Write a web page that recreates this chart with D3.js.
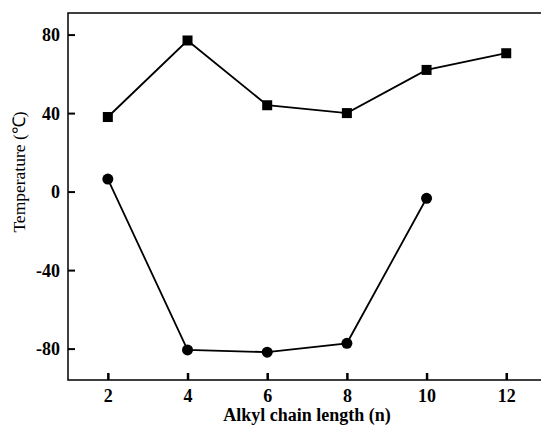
<!doctype html>
<html>
<head>
<script src="https://d3js.org/d3.v7.min.js"></script>
<style>
  body { margin: 0; background: #fff; }
  svg { display: block; }
  .tick text { font-family: "Liberation Serif", "Times New Roman", serif; font-weight: bold; font-size: 18px; fill: #000; }
</style>
</head>
<body>
<script>
var chainLength = [2, 4, 6, 8, 10, 12];
var squareTemp = [38, 77, 44, 40, 62, 70.5];
var circleLength = [2, 4, 6, 8, 10];
var circleTemp = [6.4, -80.7, -81.8, -77.3, -3.4];
var yTicks = [-80, -40, 0, 40, 80];

var W = 541, H = 427;
var plotLeft = 68, plotTop = 13, plotBottom = 380;

var svg = d3.select("body").append("svg").attr("width", W).attr("height", H);

var x = d3.scaleLinear().domain([1, 13.2]).range([plotLeft, plotLeft + 12.2 * 39.84]);
var y = d3.scaleLinear().domain([-96, 91]).range([plotBottom, plotTop]);

// frame: left, bottom, top (no right side visible)
svg.append("path")
  .attr("d", "M" + W + "," + plotTop + "H" + plotLeft + "V" + plotBottom + "H" + W)
  .attr("fill", "none").attr("stroke", "#000").attr("stroke-width", 1.5);

var yaxis = svg.append("g").attr("transform", "translate(" + plotLeft + ",0)")
  .call(d3.axisRight(y).tickValues(yTicks).tickSize(7).tickFormat(function (d) { return String(d); }));
yaxis.select(".domain").remove();
yaxis.selectAll(".tick line").attr("stroke-width", 2);
yaxis.selectAll(".tick text").attr("x", -8).attr("text-anchor", "end").attr("dy", "0.35em");

var xaxis = svg.append("g").attr("transform", "translate(0," + plotBottom + ")")
  .call(d3.axisTop(x).tickValues(chainLength).tickSize(7));
xaxis.select(".domain").remove();
xaxis.selectAll(".tick line").attr("stroke-width", 2.5);
xaxis.selectAll(".tick text").attr("y", 22).attr("dy", 0);

svg.append("text")
  .attr("x", x(7)).attr("y", 421)
  .attr("text-anchor", "middle").attr("fill", "#000")
  .style("font-family", "'Liberation Serif', serif").style("font-weight", "bold").style("font-size", "18px")
  .text("Alkyl chain length (n)");

svg.append("text")
  .attr("transform", "translate(25," + 172 + ") rotate(-90)")
  .attr("text-anchor", "middle").attr("fill", "#000")
  .style("font-family", "'Liberation Serif', serif").style("font-size", "17.5px")
  .text("Temperature (℃)");

var sq = chainLength.map(function (n, i) { return { n: n, v: squareTemp[i] }; });
var ci = circleLength.map(function (n, i) { return { n: n, v: circleTemp[i] }; });

var line = d3.line().x(function (d) { return x(d.n); }).y(function (d) { return y(d.v); });

svg.append("path").datum(sq).attr("d", line)
  .attr("fill", "none").attr("stroke", "#000").attr("stroke-width", 1.8);
svg.append("path").datum(ci).attr("d", line)
  .attr("fill", "none").attr("stroke", "#000").attr("stroke-width", 1.8);

svg.selectAll(".sq").data(sq).enter().append("rect")
  .attr("x", function (d) { return x(d.n) - 5; })
  .attr("y", function (d) { return y(d.v) - 5; })
  .attr("width", 10).attr("height", 10).attr("fill", "#000");

svg.selectAll(".ci").data(ci).enter().append("circle")
  .attr("cx", function (d) { return x(d.n); })
  .attr("cy", function (d) { return y(d.v); })
  .attr("r", 5.5).attr("fill", "#000");
</script>
</body>
</html>
